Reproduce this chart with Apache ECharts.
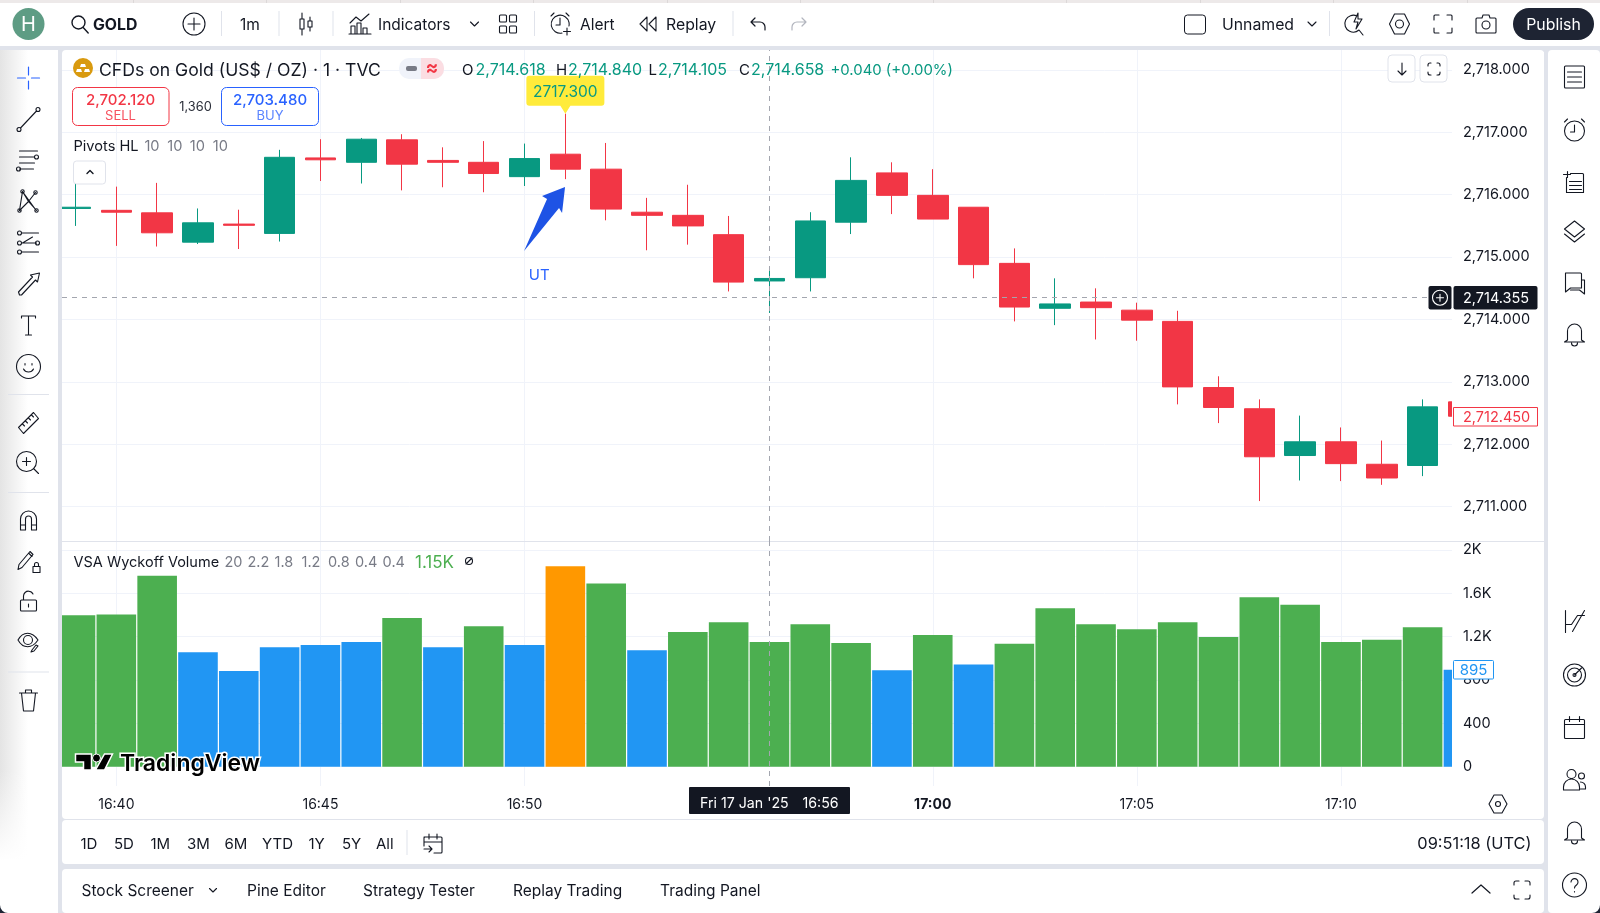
<!DOCTYPE html>
<html>
<head>
<meta charset="utf-8">
<title>GOLD 1m</title>
<script src="https://cdn.jsdelivr.net/npm/echarts@6/dist/echarts.min.js"></script>
<style>html,body{margin:0;padding:0;background:#fff}#main{width:1600px;height:913px}</style>
</head>
<body>
<div id="main"></div>
<script>
var times = ['16:39','16:40','16:41','16:42','16:43','16:44','16:45','16:46','16:47','16:48','16:49','16:50','16:51','16:52','16:53','16:54','16:55','16:56','16:57','16:58','16:59','17:00','17:01','17:02','17:03','17:04','17:05','17:06','17:07','17:08','17:09','17:10','17:11','17:12','17:13'];
var opens  = [2715.78,2715.75,2715.71,2715.24,2715.53,2715.38,2716.59,2716.52,2716.88,2716.55,2716.52,2716.29,2716.65,2716.41,2715.72,2715.67,2715.36,2714.618,2714.67,2715.56,2716.35,2715.99,2715.80,2714.90,2714.18,2714.28,2714.15,2713.97,2712.91,2712.57,2711.82,2712.04,2711.68,2711.66,2712.68];
var closes = [2715.80,2715.72,2715.39,2715.55,2715.51,2716.60,2716.56,2716.89,2716.49,2716.52,2716.34,2716.58,2716.41,2715.77,2715.67,2715.50,2714.60,2714.658,2715.58,2716.23,2715.99,2715.61,2714.88,2714.20,2714.25,2714.19,2713.99,2712.92,2712.59,2711.80,2712.04,2711.69,2711.46,2712.60,2712.45];
var lows   = [2715.50,2715.18,2715.17,2715.21,2715.13,2715.25,2716.22,2716.18,2716.07,2716.12,2716.04,2716.14,2716.25,2715.59,2715.11,2715.20,2714.45,2714.105,2714.45,2715.37,2715.69,2715.61,2714.66,2713.97,2713.91,2713.68,2713.66,2712.64,2712.34,2711.09,2711.42,2711.41,2711.35,2711.49,2712.40];
var highs  = [2716.40,2716.13,2716.19,2715.78,2715.76,2716.72,2716.89,2716.91,2716.97,2716.76,2716.86,2716.82,2717.30,2716.83,2715.95,2716.16,2715.66,2714.84,2715.72,2716.60,2716.52,2716.41,2715.80,2715.14,2714.66,2714.50,2714.27,2714.14,2713.09,2712.72,2712.46,2712.27,2712.06,2712.72,2712.78];
var volumes = [1397,1403,1762,1055,883,1101,1123,1151,1372,1101,1295,1123,1849,1689,1074,1243,1332,1151,1314,1142,889,1215,942,1135,1462,1314,1268,1332,1197,1563,1495,1151,1172,1286,895];
var volumeKinds = ['mid','mid','mid','low','low','low','low','low','mid','low','mid','low','high','mid','low','mid','mid','mid','mid','mid','low','mid','low','mid','mid','mid','mid','mid','mid','mid','mid','mid','mid','mid','low'];
var timeTicks = ['16:40','16:45','16:50','17:00','17:05','17:10'];
var priceTicks = [2711,2712,2713,2714,2715,2716,2717,2718];
var volumeTicks = [0,400,800,1200,1600,2000];
var volumeTickLabels = ['0','400','800','1.2K','1.6K','2K'];
var crosshairIndex = 17;
var crosshairPrice = 2714.355;
var pivotIndex = 12;
var pivotHigh = 2717.3;

var kindColors = {low:'#2196f3', mid:'#4caf50', high:'#ff9800'};
var INK = '#131722', GRAY = '#787b86', UP = '#089981', DOWN = '#f23645', LINE = '#e0e3eb', FONT = 'Inter';

var candles = times.map(function (t, i) { return [i, opens[i], closes[i], lows[i], highs[i]]; });
var bars = times.map(function (t, i) { return [i, volumes[i]]; });
var xTickValues = timeTicks.map(function (t) { return times.indexOf(t); });

function circ(cx, cy, r) {
  return 'M' + (cx - r) + ' ' + cy + 'a' + r + ' ' + r + ' 0 1 0 ' + (2 * r) + ' 0a' + r + ' ' + r + ' 0 1 0 ' + (-2 * r) + ' 0z';
}
var chrome = [];
var under = [];
var shapeCount = 0;
// the graphic component has no plain 'path' type, so each svg path gets its own shape
function pathEl(z, x, y, d, style) {
  var name = 'chromePath' + (shapeCount++);
  echarts.graphic.registerShape(name, echarts.graphic.extendPath(d, {}));
  chrome.push({type:name, z:z, x:x, y:y, shape:{}, style:style});
}
function rect(list, x, y, w, h, fill, r, stroke) {
  list.push({type:'rect', z: list === under ? -1 : 100, shape:{x:x, y:y, width:w, height:h, r:r || 0},
    style:{fill:fill, stroke:stroke || null, lineWidth:1}});
}
function text(x, y, s, o) {
  o = o || {};
  chrome.push({type:'text', z:o.z || 102, x:x, y:y + 1, style:{text:s, fill:o.color || INK, font:(o.weight || 'normal') + ' ' + (o.size || 15.5) + 'px ' + FONT,
    textAlign:o.align || 'left', textVerticalAlign:'middle', stroke:o.stroke, lineWidth:o.lineWidth || 0}});
}
function icon(cx, cy, d, o) {
  o = o || {};
  pathEl(101, cx - 12, cy - 12, d, {fill:o.fill || 'none', stroke:o.stroke === undefined ? (o.color || INK) : o.stroke, lineWidth:o.width || 1.1, lineCap:'round', lineJoin:'round'});
}

// panels behind the plot
rect(under, 0, 0, 1600, 3, '#ede9e9');
rect(under, 0, 3, 1600, 43, '#ffffff');
rect(under, 0, 50, 58, 863, '#ffffff');
under.push({type:'rect', z:-1, shape:{x:0, y:50, width:28, height:810}, style:{fill:new echarts.graphic.LinearGradient(0, 0, 1, 0, [{offset:0, color:'#e4e4e4'}, {offset:1, color:'#ffffff'}])}});
under.push({type:'rect', z:-1, shape:{x:0, y:770, width:28, height:91}, style:{fill:new echarts.graphic.LinearGradient(0, 0, 0, 1, [{offset:0, color:'rgba(255,255,255,0)'}, {offset:1, color:'#ffffff'}])}});
rect(under, 62, 50, 1482, 769, '#ffffff', 4);
rect(under, 62, 820, 1482, 44, '#ffffff', 4);
rect(under, 62, 869, 1482, 44, '#ffffff', 4);
rect(under, 1548, 50, 52, 863, '#ffffff', 4);
[133, 266, 400, 533, 667, 800, 933, 1066, 1200, 1333, 1467].forEach(function (x) { rect(under, x, 0, 1, 3, '#dcd8d8'); });

// bars on a value axis are not cut at the plot edge, these strips trim them
var trims = [
  {type:'rect', z:3, shape:{x:1452, y:52, width:92, height:720}, style:{fill:'#ffffff'}},
  {type:'rect', z:3, shape:{x:58, y:52, width:4, height:720}, style:{fill:LINE}},
  {type:'rect', z:3, shape:{x:44, y:52, width:14, height:720}, style:{fill:'#ffffff'}},
  {type:'rect', z:4, shape:{x:62, y:541, width:1482, height:1}, style:{fill:LINE}}
];

// top bar
chrome.push({type:'circle', z:100, shape:{cx:28.5, cy:24, r:16}, style:{fill:'#5e9c84'}});
text(28.5, 24, 'H', {color:'#fff', size:20, align:'center'});
icon(80, 24, 'M10.5 4a6.5 6.5 0 1 1 0 13a6.5 6.5 0 1 1 0-13M15.2 15.5l5 5.5', {width:1.4});
text(93, 24.5, 'GOLD', {weight:'bold', size:15.8});
icon(194, 24, circ(12, 12, 11) + 'M12 6v12M6 12h12');
[221, 278.5, 332.5, 534, 732.5, 1329].forEach(function (x) { rect(chrome, x, 11, 1, 25, LINE); });
text(240, 24.5, '1m');
icon(306, 24, 'M8 1v6M8 17v6M6 7h4v10H6zM16 5v4M16 15v4M14 9h4v6h-4z');
icon(360, 24, 'M2 11l6-6 5 4 8-7M3 22v-8h4v8M9 22v-11h4v11M15 22v-6h4v6M1 22h22');
text(378, 24.5, 'Indicators');
icon(474.5, 24, 'M8 10l4 4 4-4');
icon(507.5, 24, 'M5 3h5a1 1 0 0 1 1 1v5a1 1 0 0 1-1 1H5a1 1 0 0 1-1-1V4a1 1 0 0 1 1-1zM15 3h5a1 1 0 0 1 1 1v5a1 1 0 0 1-1 1h-5a1 1 0 0 1-1-1V4a1 1 0 0 1 1-1zM5 14h5a1 1 0 0 1 1 1v5a1 1 0 0 1-1 1H5a1 1 0 0 1-1-1v-5a1 1 0 0 1 1-1zM15 14h5a1 1 0 0 1 1 1v5a1 1 0 0 1-1 1h-5a1 1 0 0 1-1-1v-5a1 1 0 0 1 1-1z');
icon(560, 24, 'M14 21a9 9 0 1 1 7-7M12 6v7H8M3 4l3-3M21 4l-3-3M19 16v7M15.5 19.5h7');
text(580, 24.5, 'Alert');
icon(648, 24, 'M11 5l-7 7 7 7zM20 5l-7 7 7 7z');
text(666, 24.5, 'Replay', {size:15.8});
icon(758, 24, 'M9 6l-4 4 4 4M5 10h9a5 5 0 0 1 5 5v3', {width:1.2});
icon(799, 24, 'M15 6l4 4-4 4M19 10h-9a5 5 0 0 0-5 5v3', {color:'#b2b5be', width:1.2});
rect(chrome, 1184.5, 15, 21, 19, '#fff', 3, INK);
text(1222, 24.5, 'Unnamed', {size:15.8});
icon(1312, 24, 'M8 10l4 4 4-4');
icon(1355, 24, 'M14 4a8.5 8.5 0 1 0 2 14M15 1l-4 9h4l-2 7 6-10h-4zM16 18l4 5');
icon(1399.5, 24, 'M7 2h10l5 10-5 10H7L2 12zM12 8a4 4 0 1 1 0 8a4 4 0 1 1 0-8');
icon(1443, 24, 'M8 3H4a1 1 0 0 0-1 1v4M16 3h4a1 1 0 0 1 1 1v4M8 21H4a1 1 0 0 1-1-1v-4M16 21h4a1 1 0 0 0 1-1v-4');
icon(1486, 24, 'M3 6h5l1-3h6l1 3h5a1 1 0 0 1 1 1v13a1 1 0 0 1-1 1H3a1 1 0 0 1-1-1V7a1 1 0 0 1 1-1zM12 9a4 4 0 1 1 0 8a4 4 0 1 1 0-8');
rect(chrome, 1513, 8, 81, 32, '#1e2433', 16);
text(1553.5, 24, 'Publish', {color:'#fff', size:15.8, align:'center'});

// symbol legend
chrome.push({type:'circle', z:100, shape:{cx:83, cy:68, r:10}, style:{fill:'#d99a0f'}});
icon(83, 68, 'M10 8h4l1 3H9zM6 13h4l1 3H5zM14 13h4l1 3h-6z', {fill:'#fff', stroke:null});
text(99, 69.5, 'CFDs on Gold (US$ / OZ) · 1 · TVC', {size:17.6});
rect(chrome, 399, 58, 45, 21, '#f0f3fa', 10);
pathEl(100, 0, 0, 'M421 58h13a10 10 0 0 1 10 10v1a10 10 0 0 1-10 10h-13z', {fill:'#fbdde2'});
rect(chrome, 406, 66, 11, 5, '#787b86', 2);
text(432, 67.5, '≈', {color:DOWN, size:19, align:'center', weight:'bold'});
[['O', 462, '2,714.618', 475.5], ['H', 556, '2,714.840', 568], ['L', 648.5, '2,714.105', 658], ['C', 739, '2,714.658', 751]].forEach(function (p) {
  text(p[1], 69.5, p[0], {size:15});
  text(p[3], 69.5, p[2], {size:16, color:UP});
});
text(830.5, 69.5, '+0.040 (+0.00%)', {size:14.9, color:UP});
rect(chrome, 1388, 55, 27, 27, '#fff', 4, LINE);
rect(chrome, 1420, 55, 27, 27, '#fff', 4, LINE);
icon(1402, 69, 'M12 6v12M8 14l4 4 4-4');
icon(1434, 69, 'M9 6H8a2 2 0 0 0-2 2v1M15 6h1a2 2 0 0 1 2 2v1M9 18H8a2 2 0 0 1-2-2v-1M15 18h1a2 2 0 0 0 2-2v-1');

// sell and buy
rect(chrome, 72.5, 87.5, 96.5, 38, '#fff', 5, DOWN);
text(120.5, 99.5, '2,702.120', {color:DOWN, size:15, align:'center', weight:500});
text(120.5, 115.5, 'SELL', {color:'#f7525f', size:13, align:'center'});
text(195.5, 106.5, '1,360', {size:12.8, align:'center', color:'#2a2e39'});
rect(chrome, 221.5, 87.5, 97, 38, '#fff', 5, '#2962ff');
text(270, 99.5, '2,703.480', {color:'#2962ff', size:15, align:'center', weight:500});
text(270, 115.5, 'BUY', {color:'#5b85ff', size:13, align:'center'});

text(73.5, 145.5, 'Pivots HL', {size:14.6});
[144.4, 167.3, 189.8, 212.8].forEach(function (x) { text(x, 145.5, '10', {size:14.6, color:GRAY}); });
rect(chrome, 73.5, 161, 32, 23, '#fff', 3, LINE);
icon(90, 172, 'M9 13.5l3-3 3 3', {width:1.4});

// volume legend
text(73.5, 561.5, 'VSA Wyckoff Volume', {size:14.5});
[['20', 224.5], ['2.2', 247.4], ['1.8', 274.5], ['1.2', 301.5], ['0.8', 328], ['0.4', 355], ['0.4', 382.6]].forEach(function (p) {
  text(p[1], 561.5, p[0], {size:14.5, color:GRAY});
});
text(415, 561.5, '1.15K', {size:17, color:'#4caf50'});
icon(469, 561, circ(12, 12, 3.5) + 'M9 15l6-6');

// price tags
rect(chrome, 1428.5, 286, 23, 23.5, INK, 2);
icon(1440, 297.7, circ(12, 12, 7.5) + 'M12 8.5v7M8.5 12h7', {color:'#fff'});
rect(chrome, 1453.5, 286, 84, 23.5, INK, 2);
text(1463, 297.5, '2,714.355', {color:'#fff', size:14.5});
rect(chrome, 1453.5, 407.5, 84, 18.5, '#fff', 0, DOWN);
text(1463, 416.5, '2,712.450', {color:DOWN, size:14.5});
rect(chrome, 1453.5, 660.5, 40, 18.5, '#fff', 1, '#2196f3');
text(1473.5, 669.5, '895', {color:'#2196f3', size:15, align:'center'});

// watermark
pathEl(101, 75.5, 754, 'M0 0h16v16h-8v-8h-8zM29 0h8l-8 16h-9z', {fill:'#000', stroke:'#fff', lineWidth:1.5});
chrome.push({type:'circle', z:101, shape:{cx:96.5, cy:758, r:4}, style:{fill:'#000', stroke:'#fff', lineWidth:1}});
text(120, 763, 'TradingView', {size:23, weight:600, color:'#000', stroke:'#fff', lineWidth:3});

// time tag and bottom bars
rect(chrome, 689, 787, 161, 27, INK, 1);
text(700, 803, "Fri 17 Jan '25", {color:'#fff', size:14.2});
text(802.5, 803, '16:56', {color:'#fff', size:14.2});
icon(1498, 804, 'M8 3h8l5 9-5 9H8l-5-9zM12 9.5a2.5 2.5 0 1 1 0 5a2.5 2.5 0 1 1 0-5');
[['1D', 80.5], ['5D', 114], ['1M', 150.5], ['3M', 187], ['6M', 224.5], ['YTD', 262], ['1Y', 308.5], ['5Y', 342], ['All', 376]].forEach(function (p) {
  text(p[1], 843, p[0], {size:15});
});
rect(chrome, 406.5, 830, 1, 25, LINE);
icon(433, 843, 'M3 6h17a1 1 0 0 1 1 1v14a1 1 0 0 1-1 1H13M3 15V7a1 1 0 0 1 1-1M8 3v5M16 3v5M3 11h18M3 18h7M8 15l3 3-3 3');
text(1531.5, 843, '09:51:18 (UTC)', {size:16.4, align:'right'});
[['Stock Screener', 81.5], ['Pine Editor', 247], ['Strategy Tester', 363], ['Replay Trading', 513], ['Trading Panel', 660]].forEach(function (p) {
  text(p[1], 890.5, p[0]);
});
icon(213, 890, 'M8.5 10.5l3.5 3.5 3.5-3.5');
icon(1481, 888, 'M3 17l9-8 9 8', {width:1.2});
icon(1522, 890, 'M9 3H6a2 2 0 0 0-2 2v2M15 3h3a2 2 0 0 1 2 2v2M9 21H6a2 2 0 0 1-2-2v-2M15 21h3a2 2 0 0 0 2-2v-2');

// left toolbar
icon(28.5, 78, 'M12 1v8M12 15v8M1 12h8M15 12h8', {color:'#2962ff', width:1.2});
icon(28.5, 119, 'M4 21L20 4' + circ(21.5, 2.5, 2) + circ(2.5, 22.5, 2));
icon(28.5, 160, 'M3 3h18M3 9h15M3 15h15M3 21h14' + circ(20, 9, 2) + circ(2, 21, 2));
icon(28.5, 201.5, 'M6 2L3 21M6 2l6 10 7-9M6 2l13 18M3 21l9-9 8 9' + circ(6, 2, 1.7) + circ(19, 3, 1.7) + circ(3, 21, 1.7) + circ(20, 21, 1.7));
icon(28.5, 243, 'M5 2h17M5 12h15M5 21h17M6 12l10-6' + circ(3, 2, 2) + circ(3, 12, 2) + circ(21, 12, 2) + circ(3, 21, 2));
icon(28.5, 284, 'M3 23l-1-3 14-15-2-2 9-2-2 9-2-2L5 23z');
icon(28.5, 325, 'M5 3h14M5 3v2M19 3v2M12 3v19M9 22h6');
icon(28.5, 366.5, circ(12, 12, 12) + 'M7 14.5c2 4 8 4 10 0M8.5 9v1.5M15.5 9v1.5');
rect(chrome, 8, 394, 41, 1, LINE);
icon(28.5, 422.5, 'M2 17L17 2l5 6L7 23zM6 13.5l2 2M9 10.5l2 2M12 7.5l2 2M15 4.5l2 2');
icon(27.5, 462.5, circ(11, 11, 10) + 'M11 7v8M7 11h8M18 18l5 5');
rect(chrome, 8, 492, 41, 1, LINE);
icon(28.5, 520, 'M4 22V11a8 8 0 0 1 16 0v11h-5V11a3 3 0 0 0-6 0v11zM4 17h5M15 17h5');
icon(28, 561.5, 'M2 20l1-5L14 2l3 3L6 18zM13 4l3 3M17 23h7v-6h-7zM18.5 17v-2a2 2 0 0 1 4 0v2');
icon(28.5, 601, 'M5 22h14a1 1 0 0 0 1-1V12a1 1 0 0 0-1-1H5a1 1 0 0 0-1 1v9a1 1 0 0 0 1 1zM7 11V7a5 5 0 0 1 9.5-2M12 15v3');
icon(28, 641, 'M2 11c5-9 14-9 20 0c-6 9-15 9-20 0z' + circ(12, 11, 4.5) + 'M15 23l3-1 4-5-2-1-4 5z');
rect(chrome, 8, 671.5, 41, 1, LINE);
icon(28.5, 700, 'M3 5h18M9 5V2h6v3M5 5l2 18h10l2-18');

// right toolbar
var rx = 1574.5;
icon(rx, 77, 'M3 1h18a1 1 0 0 1 1 1v20a1 1 0 0 1-1 1H3a1 1 0 0 1-1-1V2a1 1 0 0 1 1-1zM5 7h14M5 12h14M5 17h14');
icon(rx, 130, circ(12, 13, 10) + 'M12 7v7H8M2 4l3-3M22 4l-3-3');
icon(rx, 181.5, 'M8 4h12a1 1 0 0 1 1 1v18H4V8M5 2v6M1 5h7M7 12h12M7 16h12M7 20h12');
icon(rx, 231, 'M12 2l10 8-10 8-10-8zM2 15l10 8 10-8');
icon(rx, 283, 'M3 2h15a1 1 0 0 1 1 1v14H8l-5 4zM19 9h3v14l-5-4H8');
icon(rx, 334, 'M12 2a7 7 0 0 1 7 7v9l3 2H2l3-2V9a7 7 0 0 1 7-7zM9 21a3 3 0 0 0 6 0');
icon(rx, 621.5, 'M3 1v22M3 15h6l6-9h7M9 15l6-9M22 1L10 22');
icon(rx, 675, circ(12, 12, 11) + circ(12, 12, 7) + circ(12, 12, 1.5) + 'M12 12l7-7');
icon(rx, 727.5, 'M3 4h18a1 1 0 0 1 1 1v17a1 1 0 0 1-1 1H3a1 1 0 0 1-1-1V5a1 1 0 0 1 1-1zM7 1v5M17 1v5M2 9h20');
icon(rx, 780, circ(9, 6, 4.5) + circ(19, 8, 3) + 'M1 22v-3a8 8 0 0 1 16 0v3zM18 14a5 5 0 0 1 5 5v2h-5');
icon(rx, 832, 'M12 2a7 7 0 0 1 7 7v9l3 2H2l3-2V9a7 7 0 0 1 7-7zM9 21a3 3 0 0 0 6 0');
icon(rx, 885, circ(12, 12, 12) + 'M8.5 9a3.5 3.5 0 1 1 5.5 3c-1.5 1-2 2-2 3M12 18.5v.5');

// window corners
pathEl(103, 0, 0, 'M0 905a8 8 0 0 0 8 8H0z', {fill:'#1e2433'});
pathEl(103, 0, 0, 'M1600 905a8 8 0 0 1-8 8h8z', {fill:'#1e2433'});

var calloutPath = 'path://M3 0h72a3 3 0 0 1 3 3v24a3 3 0 0 1-3 3H44l-5 8l-5-8H3a3 3 0 0 1-3-3V3a3 3 0 0 1 3-3z';
var arrowPath = 'path://M41 0L38 26L35 21L0 64L23 12L18 9z';

var priceRange = {min: 2710.45, max: 2718.32};
var volumeRange = {min: -178, max: 2082};
function priceLabel(v) { return v.toLocaleString('en-US', {minimumFractionDigits: 3}); }
function volumeLabel(v) { return volumeTickLabels[volumeTicks.indexOf(v)]; }

var myChart = echarts.init(document.getElementById('main'));
var option = {
  animation: false,
  backgroundColor: LINE,
  textStyle: {fontFamily: FONT},
  grid: [
    {left: 62, right: 148, top: 50, height: 491},
    {left: 62, right: 148, top: 541, height: 245}
  ],
  xAxis: [
    {
      type: 'value', gridIndex: 0, min: -0.331, max: 33.72, position: 'bottom',
      axisLine: {show: false}, axisLabel: {show: false},
      axisTick: {show: false, customValues: xTickValues},
      splitLine: {show: true, lineStyle: {color: '#f0f3fa', width: 1}}
    },
    {
      type: 'value', gridIndex: 1, min: -0.331, max: 33.72, position: 'bottom',
      axisLine: {show: false},
      axisTick: {show: false, customValues: xTickValues},
      splitLine: {show: true, lineStyle: {color: '#f0f3fa', width: 1}},
      axisLabel: {
        customValues: xTickValues, margin: 12, color: INK, fontFamily: FONT, fontSize: 14,
        showMinLabel: true, showMaxLabel: true,
        formatter: function (v) {
          var s = times[v];
          return s === '17:00' ? '{b|' + s + '}' : s;
        },
        rich: {b: {fontWeight: 'bold', fontSize: 14, fontFamily: FONT, color: INK}}
      }
    }
  ],
  yAxis: [
    {
      type: 'value', gridIndex: 0, position: 'right', min: priceRange.min, max: priceRange.max,
      axisLine: {show: false}, axisTick: {show: false, customValues: priceTicks}, axisLabel: {show: false},
      splitLine: {show: true, lineStyle: {color: '#f0f3fa', width: 1}}
    },
    {
      type: 'value', gridIndex: 1, position: 'right', min: volumeRange.min, max: volumeRange.max,
      axisLine: {show: false}, axisTick: {show: false, customValues: volumeTicks}, axisLabel: {show: false},
      splitLine: {show: true, lineStyle: {color: '#f0f3fa', width: 1}}
    },
    // same scales again, only for the labels, so they stay above the trim strips
    {
      type: 'value', gridIndex: 0, position: 'right', min: priceRange.min, max: priceRange.max, z: 10,
      axisLine: {show: false}, axisTick: {show: false}, splitLine: {show: false},
      axisLabel: {customValues: priceTicks, margin: 11, padding: [2, 0, 0, 0], color: INK, fontFamily: FONT, fontSize: 14.5, formatter: priceLabel}
    },
    {
      type: 'value', gridIndex: 1, position: 'right', min: volumeRange.min, max: volumeRange.max, z: 10,
      axisLine: {show: false}, axisTick: {show: false}, splitLine: {show: false},
      axisLabel: {customValues: volumeTicks, margin: 11, padding: [2, 0, 0, 0], color: INK, fontFamily: FONT, fontSize: 14.5, formatter: volumeLabel}
    }
  ],
  series: [
    {
      type: 'candlestick', xAxisIndex: 0, yAxisIndex: 0, barWidth: 31, data: candles,
      itemStyle: {color: UP, color0: DOWN, borderColor: UP, borderColor0: DOWN, borderWidth: 1},
      markLine: {
        silent: true, symbol: 'none', animation: false, label: {show: false},
        lineStyle: {color: '#a3a6af', type: [5, 5], width: 1},
        data: [{yAxis: crosshairPrice}, {xAxis: crosshairIndex}]
      },
      markPoint: {
        silent: true, animation: false,
        data: [
          {
            coord: [pivotIndex, pivotHigh], symbol: calloutPath, symbolSize: [78, 38], symbolOffset: [0, -19], symbolKeepAspect: false,
            itemStyle: {color: '#ffeb3b'},
            label: {show: true, formatter: pivotHigh.toFixed(3), position: 'inside', offset: [0, -2], color: UP, fontSize: 15.5, fontFamily: FONT}
          },
          {
            coord: [11.49, 2715.61], symbol: arrowPath, symbolSize: [41, 64], symbolKeepAspect: false,
            itemStyle: {color: '#1e53e5'}, label: {show: false}
          },
          {
            coord: [11.36, 2714.71], symbol: 'circle', symbolSize: 1, itemStyle: {color: 'rgba(0,0,0,0)'},
            label: {show: true, formatter: 'UT', position: 'inside', color: '#2962ff', fontSize: 15, fontFamily: FONT}
          }
        ]
      }
    },
    {
      type: 'bar', xAxisIndex: 1, yAxisIndex: 1, barWidth: 39.6, data: bars,
      itemStyle: {color: function (p) { return kindColors[volumeKinds[p.dataIndex]]; }},
      markLine: {
        silent: true, symbol: 'none', animation: false, label: {show: false},
        lineStyle: {color: '#a3a6af', type: [5, 5], width: 1},
        data: [{xAxis: crosshairIndex}]
      }
    }
  ],
  graphic: {elements: under.concat(trims).concat(chrome)}
};
myChart.setOption(option);
window.addEventListener('resize', function () { myChart.resize(); });
</script>
</body>
</html>
